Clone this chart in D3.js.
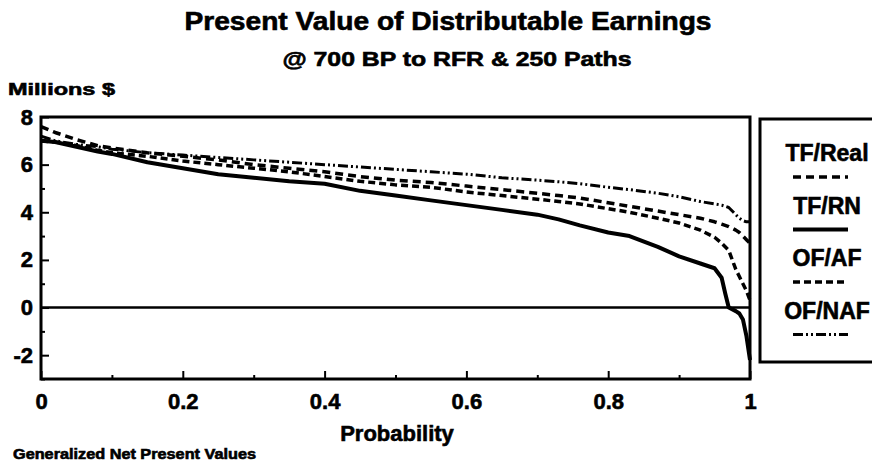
<!DOCTYPE html>
<html>
<head>
<meta charset="utf-8">
<script src="https://cdn.jsdelivr.net/npm/d3@7"></script>
<style>
  html, body { margin: 0; padding: 0; background: #fff; }
  svg { display: block; font-family: "Liberation Sans", Arial, Helvetica, sans-serif; font-weight: bold; }
  svg text { stroke: #000; stroke-width: 0.6px; fill: #000; }
</style>
</head>
<body>
<svg id="chart" width="872" height="462"></svg>
<script>
// Cumulative probability grid shared by all four series
const probability = [0, 0.02, 0.05, 0.08, 0.1, 0.15, 0.2, 0.25, 0.3, 0.35, 0.4, 0.45, 0.5, 0.55,
  0.6, 0.65, 0.7, 0.73, 0.76, 0.8, 0.83, 0.87, 0.9, 0.93, 0.95, 0.96, 0.965, 0.97, 0.98, 0.985,
  0.99, 0.995, 1];

// Present value of distributable earnings, millions $
const tfReal = [7.6, 7.35, 7.05, 6.8, 6.7, 6.5, 6.35, 6.2, 6.0, 5.85, 5.7, 5.5, 5.35, 5.25,
  5.1, 4.95, 4.8, 4.7, 4.6, 4.4, 4.25, 4.05, 3.9, 3.75, 3.6, 3.5, 3.45, 3.4, 3.25, 3.15,
  3.0, 2.85, 2.7];
const tfRN = [7.0, 6.95, 6.75, 6.55, 6.45, 6.1, 5.85, 5.6, 5.45, 5.3, 5.2, 4.9, 4.7, 4.5,
  4.3, 4.1, 3.9, 3.7, 3.45, 3.15, 3.0, 2.55, 2.15, 1.85, 1.65, 1.25, 0.6, 0.0, -0.15, -0.25,
  -0.5, -1.2, -2.2];
const ofAF = [7.0, 6.95, 6.8, 6.6, 6.5, 6.35, 6.15, 6.0, 5.85, 5.7, 5.5, 5.3, 5.15, 5.05,
  4.85, 4.7, 4.55, 4.45, 4.35, 4.15, 4.0, 3.75, 3.55, 3.25, 2.95, 2.7, 2.55, 2.4, 1.6, 1.3,
  1.0, 0.7, 0.3];
const ofNAF = [7.2, 7.0, 6.85, 6.75, 6.65, 6.5, 6.4, 6.3, 6.2, 6.1, 6.0, 5.9, 5.8, 5.7,
  5.6, 5.45, 5.35, 5.28, 5.2, 5.05, 4.95, 4.8, 4.65, 4.45, 4.35, 4.3, 4.25, 4.2, 3.9, 3.75,
  3.65, 3.6, 3.6];

const seriesNames = ["TF/Real", "TF/RN", "OF/AF", "OF/NAF"];
const seriesValues = [tfReal, tfRN, ofAF, ofNAF];

const xTicks = [0, 0.2, 0.4, 0.6, 0.8, 1];
const xMinorTicks = [0.1, 0.3, 0.5, 0.7, 0.9];
const yTicks = [-2, 0, 2, 4, 6, 8];
const yMinorTicks = [-3, -1, 1, 3, 5, 7];

const titleText = "Present Value of Distributable Earnings";
const subtitleText = "@ 700 BP to RFR & 250 Paths";
const yUnitText = "Millions $";
const xAxisText = "Probability";
const footerText = "Generalized Net Present Values";

// Line styling per series
const styles = {
  "TF/Real": { dash: "8,5", width: 3.5 },
  "TF/RN":   { dash: null, width: 4 },
  "OF/AF":   { dash: "7,4", width: 3.5 },
  "OF/NAF":  { dash: "10,3,2,3,2,3", width: 3 }
};

const svg = d3.select("#chart");
const plot = { left: 41, right: 750, top: 117, bottom: 379 };

const x = d3.scaleLinear().domain([0, 1]).range([plot.left, plot.right]);
const y = d3.scaleLinear().domain([-3, 8]).range([plot.bottom, plot.top]);

// Titles
svg.append("text").attr("x", 448).attr("y", 30).attr("text-anchor", "middle")
  .attr("font-size", 25).attr("textLength", 527).attr("lengthAdjust", "spacingAndGlyphs")
  .text(titleText);
svg.append("text").attr("x", 457).attr("y", 66).attr("text-anchor", "middle")
  .attr("font-size", 20).attr("textLength", 349).attr("lengthAdjust", "spacingAndGlyphs")
  .text(subtitleText);
svg.append("text").attr("x", 8).attr("y", 95)
  .attr("font-size", 17).attr("textLength", 107).attr("lengthAdjust", "spacingAndGlyphs")
  .text(yUnitText);

// Axes with inward ticks; plain hyphen for negatives
const intFormat = d => String(d);
const yAxis = d3.axisLeft(y).tickValues(yTicks).tickFormat(intFormat)
  .tickSizeInner(-8).tickSizeOuter(0).tickPadding(8);
const yMinor = d3.axisLeft(y).tickValues(yMinorTicks).tickFormat("")
  .tickSizeInner(-4).tickSizeOuter(0);
const xAxis = d3.axisBottom(x).tickValues(xTicks).tickFormat(intFormat)
  .tickSizeInner(-8).tickSizeOuter(0).tickPadding(14);
const xMinor = d3.axisBottom(x).tickValues(xMinorTicks).tickFormat("")
  .tickSizeInner(-4).tickSizeOuter(0);

function styleAxis(g) {
  g.select(".domain").remove();
  g.selectAll("line").attr("stroke", "#000").attr("stroke-width", 2);
  g.selectAll("text").attr("font-size", 22).attr("font-weight", "bold")
    .attr("font-family", "Liberation Sans, Arial, sans-serif").attr("fill", "#000");
}

svg.append("g").attr("transform", `translate(${plot.left},0)`).call(yAxis).call(styleAxis);
svg.append("g").attr("transform", `translate(${plot.left},0)`).call(yMinor).call(styleAxis);
svg.append("g").attr("transform", `translate(0,${plot.bottom})`).call(xAxis).call(styleAxis);
svg.append("g").attr("transform", `translate(0,${plot.bottom})`).call(xMinor).call(styleAxis);

// Zero reference line
svg.append("line")
  .attr("x1", plot.left).attr("x2", plot.right)
  .attr("y1", y(0)).attr("y2", y(0))
  .attr("stroke", "#000").attr("stroke-width", 2.5);

// Series lines
const line = d3.line()
  .x((d, i) => x(probability[i]))
  .y(d => y(d));

seriesNames.forEach((name, k) => {
  svg.append("path")
    .datum(seriesValues[k])
    .attr("d", line)
    .attr("fill", "none")
    .attr("stroke", "#000")
    .attr("stroke-width", styles[name].width)
    .attr("stroke-linejoin", "round")
    .attr("stroke-dasharray", styles[name].dash);
});

// Plot frame
svg.append("rect")
  .attr("x", plot.left).attr("y", plot.top)
  .attr("width", plot.right - plot.left).attr("height", plot.bottom - plot.top)
  .attr("fill", "none").attr("stroke", "#000").attr("stroke-width", 3);

// Axis title and footnote
svg.append("text").attr("x", 397).attr("y", 441).attr("text-anchor", "middle")
  .attr("font-size", 22).text(xAxisText);
svg.append("text").attr("x", 13).attr("y", 459)
  .attr("font-size", 14).attr("textLength", 243).attr("lengthAdjust", "spacingAndGlyphs")
  .text(footerText);

// Legend
const legend = svg.append("g");
legend.append("rect")
  .attr("x", 760).attr("y", 119).attr("width", 150).attr("height", 243)
  .attr("fill", "none").attr("stroke", "#000").attr("stroke-width", 3);

seriesNames.forEach((name, i) => {
  const base = 161 + i * 52.5;
  legend.append("text").attr("x", 827).attr("y", base).attr("text-anchor", "middle")
    .attr("font-size", 23).text(name);
  legend.append("line")
    .attr("x1", 793).attr("x2", 848)
    .attr("y1", base + 16).attr("y2", base + 16)
    .attr("stroke", "#000").attr("stroke-width", styles[name].width)
    .attr("stroke-dasharray", styles[name].dash);
});
</script>
</body>
</html>
